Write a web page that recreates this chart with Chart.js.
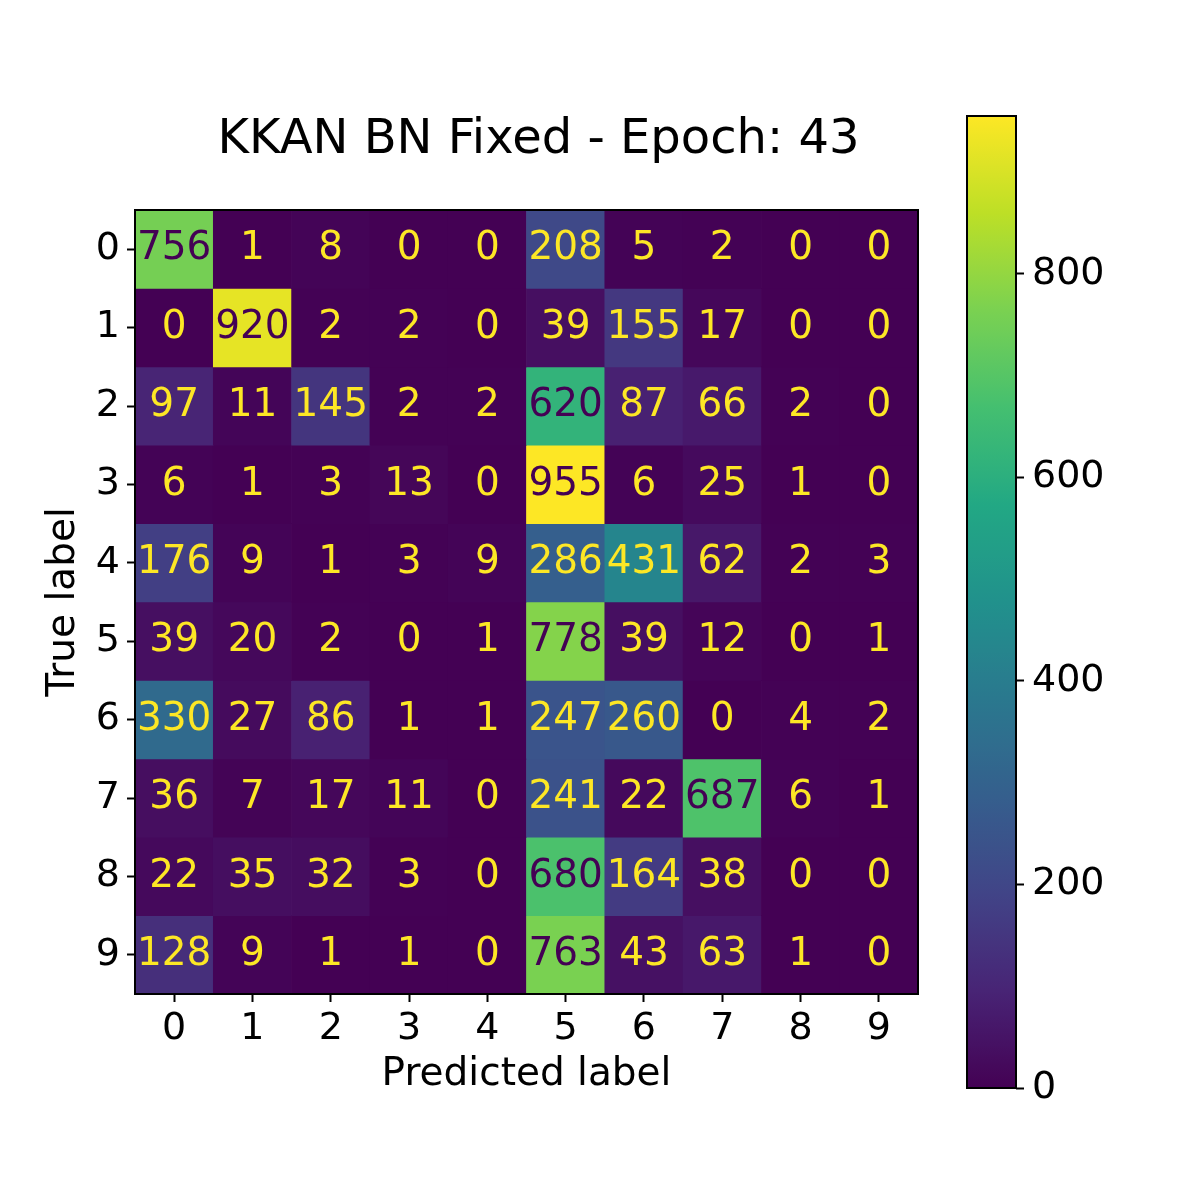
<!DOCTYPE html>
<html>
<head>
<meta charset="utf-8">
<script src="https://cdn.jsdelivr.net/npm/chart.js@4.4.1/dist/chart.umd.min.js"></script>
<style>
  html, body { margin: 0; padding: 0; background: #fff; }
  #wrap { position: relative; width: 1196px; height: 1204px; }
  #wrap canvas { position: absolute; left: 0; top: 0; }
</style>
</head>
<body>
<div id="wrap">
  <canvas id="matrix" width="1196" height="1204"></canvas>
  <canvas id="cbar" width="1196" height="1204"></canvas>
</div>
<script>
"use strict";

// confusion matrix, rows = true label, columns = predicted label
var predictedLabels = ['0', '1', '2', '3', '4', '5', '6', '7', '8', '9'];
var trueLabels = ['0', '1', '2', '3', '4', '5', '6', '7', '8', '9'];
var row0 = [756, 1, 8, 0, 0, 208, 5, 2, 0, 0];
var row1 = [0, 920, 2, 2, 0, 39, 155, 17, 0, 0];
var row2 = [97, 11, 145, 2, 2, 620, 87, 66, 2, 0];
var row3 = [6, 1, 3, 13, 0, 955, 6, 25, 1, 0];
var row4 = [176, 9, 1, 3, 9, 286, 431, 62, 2, 3];
var row5 = [39, 20, 2, 0, 1, 778, 39, 12, 0, 1];
var row6 = [330, 27, 86, 1, 1, 247, 260, 0, 4, 2];
var row7 = [36, 7, 17, 11, 0, 241, 22, 687, 6, 1];
var row8 = [22, 35, 32, 3, 0, 680, 164, 38, 0, 0];
var row9 = [128, 9, 1, 1, 0, 763, 43, 63, 1, 0];
var counts = [row0, row1, row2, row3, row4, row5, row6, row7, row8, row9];
var colorbarTicks = [0, 200, 400, 600, 800];
var chartTitle = 'KKAN BN Fixed - Epoch: 43';

var FONT = 'DejaVu Sans';
Chart.defaults.font.family = FONT;
Chart.defaults.color = '#000';

var allValues = [].concat.apply([], counts);
var vmin = Math.min.apply(null, allValues);
var vmax = Math.max.apply(null, allValues);

// viridis, sampled every 0.1
var VIRIDIS = ['#440154', '#482475', '#414487', '#355f8d', '#2a788e', '#21918c',
               '#22a884', '#44bf70', '#7ad151', '#bddf26', '#fde725'];

function hexToRgb(h) {
  return [parseInt(h.substr(1, 2), 16), parseInt(h.substr(3, 2), 16), parseInt(h.substr(5, 2), 16)];
}

function viridis(t) {
  t = Math.max(0, Math.min(1, t));
  var pos = t * (VIRIDIS.length - 1);
  var i = Math.min(Math.floor(pos), VIRIDIS.length - 2);
  var f = pos - i;
  var a = hexToRgb(VIRIDIS[i]), b = hexToRgb(VIRIDIS[i + 1]);
  var c = a.map(function(v, k) { return Math.round(v + (b[k] - v) * f); });
  return 'rgb(' + c.join(',') + ')';
}

function norm(v) { return (v - vmin) / (vmax - vmin); }

var frame = {
  id: 'frame',
  afterDraw: function(chart) {
    var a = chart.chartArea, ctx = chart.ctx;
    ctx.save();
    ctx.strokeStyle = '#000';
    ctx.lineWidth = 2;
    ctx.strokeRect(a.left, a.top, a.right - a.left, a.bottom - a.top);
    ctx.restore();
  }
};

var cellText = {
  id: 'cellText',
  afterDatasetsDraw: function(chart) {
    var ctx = chart.ctx, xs = chart.scales.x, ys = chart.scales.y;
    var thresh = (vmax + vmin) / 2;
    ctx.save();
    ctx.font = '39px "' + FONT + '"';
    ctx.textAlign = 'center';
    ctx.textBaseline = 'middle';
    counts.forEach(function(row, i) {
      row.forEach(function(v, j) {
        ctx.fillStyle = v > thresh ? viridis(0) : viridis(1);
        ctx.fillText(String(v), xs.getPixelForValue(j), ys.getPixelForValue(i));
      });
    });
    ctx.restore();
  }
};

var titleText = {
  id: 'titleText',
  afterDraw: function(chart) {
    var ctx = chart.ctx;
    ctx.save();
    ctx.font = '48px "' + FONT + '"';
    ctx.fillStyle = '#000';
    ctx.textAlign = 'center';
    ctx.textBaseline = 'alphabetic';
    ctx.fillText(chartTitle, 538.5, 153);
    ctx.restore();
  }
};

var tickGrid = {
  drawOnChartArea: false,
  drawTicks: true,
  tickLength: 8,
  tickWidth: 2,
  tickColor: '#000',
  offset: false
};

new Chart(document.getElementById('matrix'), {
  type: 'bar',
  data: {
    labels: predictedLabels,
    datasets: counts.map(function(row, i) {
      return {
        label: trueLabels[i],
        data: row.map(function() { return [i - 0.5, i + 0.5]; }),
        backgroundColor: row.map(function(v) { return viridis(norm(v)); }),
        borderWidth: 0,
        barPercentage: 1,
        categoryPercentage: 1,
        grouped: false
      };
    })
  },
  options: {
    responsive: false,
    animation: false,
    layout: { padding: { left: 0, top: 210, right: 278, bottom: 90 } },
    plugins: { legend: { display: false }, tooltip: { enabled: false }, title: { display: false } },
    scales: {
      x: {
        type: 'category',
        offset: true,
        grid: tickGrid,
        border: { display: false },
        ticks: { font: { size: 38 }, padding: 4, maxRotation: 0 },
        title: { display: true, text: 'Predicted label', font: { size: 39, lineHeight: 1 }, padding: { top: 0, bottom: 20 } },
        afterFit: function(s) { s.height = 120; }
      },
      y: {
        type: 'linear',
        min: -0.5,
        max: 9.5,
        reverse: true,
        grid: tickGrid,
        border: { display: false },
        afterBuildTicks: function(s) {
          s.ticks = trueLabels.map(function(l, i) { return { value: i }; });
        },
        ticks: {
          font: { size: 38 },
          padding: 7,
          callback: function(v) { return trueLabels[v]; }
        },
        title: { display: true, text: 'True label', font: { size: 39, lineHeight: 1 }, padding: { top: 44, bottom: 0 } },
        afterFit: function(s) { s.width = 135; }
      }
    }
  },
  plugins: [cellText, frame, titleText]
});

new Chart(document.getElementById('cbar'), {
  type: 'bar',
  data: {
    labels: [''],
    datasets: [{
      data: [[vmin, vmax]],
      backgroundColor: function(context) {
        var area = context.chart.chartArea;
        if (!area) return viridis(0);
        var g = context.chart.ctx.createLinearGradient(0, area.bottom, 0, area.top);
        for (var k = 0; k <= 40; k++) g.addColorStop(k / 40, viridis(k / 40));
        return g;
      },
      borderWidth: 0,
      barPercentage: 1,
      categoryPercentage: 1
    }]
  },
  options: {
    responsive: false,
    animation: false,
    layout: { padding: { left: 967, top: 116, right: 60, bottom: 116 } },
    plugins: { legend: { display: false }, tooltip: { enabled: false } },
    scales: {
      x: { display: false },
      y: {
        position: 'right',
        min: vmin,
        max: vmax,
        grid: tickGrid,
        border: { display: false },
        afterBuildTicks: function(s) {
          s.ticks = colorbarTicks.map(function(v) { return { value: v }; });
        },
        ticks: { font: { size: 38 }, padding: 8 },
        afterFit: function(s) { s.width = 120; }
      }
    }
  },
  plugins: [frame]
});
</script>
</body>
</html>
